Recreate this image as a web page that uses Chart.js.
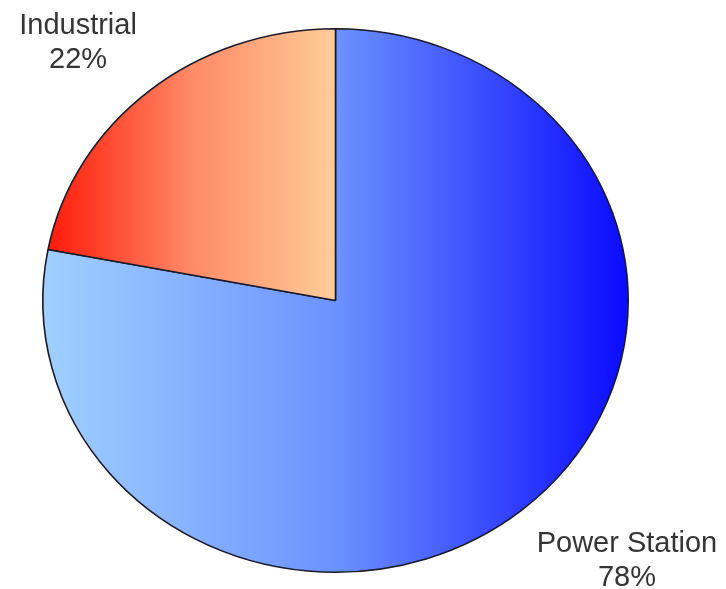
<!DOCTYPE html>
<html>
<head>
<meta charset="utf-8">
<script src="https://cdn.jsdelivr.net/npm/chart.js@4.4.0/dist/chart.umd.min.js"></script>
<style>
  html, body { margin: 0; padding: 0; background: #ffffff; }
  #wrap { width: 726px; height: 589px; }
</style>
</head>
<body>
<div id="wrap"><canvas id="pieChart" width="726" height="589"></canvas></div>
<script>
// chart data
const categories = ['Power Station', 'Industrial'];
const shares = [78, 22];
const percentLabels = ['78%', '22%'];

// gradient stops (left -> right) for each slice
const gradientStops = [
    ['#a0d0ff', '#6c92ff', '#0a0aff'],
    ['#ff1a0a', '#ff8a66', '#ffcc99']
];

const stretchX = 1.077;          // the pie is drawn slightly wider than tall
const labelPush = [62, 28];      // extra horizontal push for the outside labels
const labelDrop = [3, 0];        // small vertical nudge for the outside labels

// angles of every slice, starting at 12 o'clock, clockwise
function sliceAngles(values) {
    const total = values.reduce((a, b) => a + b, 0);
    let start = -Math.PI / 2;
    return values.map(v => {
        const end = start + v / total * Math.PI * 2;
        const out = { start: start, end: end };
        start = end;
        return out;
    });
}

function sliceGradient(context) {
    const chart = context.chart;
    const area = chart.chartArea;
    if (!area) return gradientStops[context.dataIndex][0];
    const cx = (area.left + area.right) / 2;
    const r = Math.min(area.right - area.left, area.bottom - area.top) / 2;
    const a = sliceAngles(shares)[context.dataIndex];
    // horizontal extent of the slice
    const xs = [cx, cx + r * Math.cos(a.start), cx + r * Math.cos(a.end)];
    for (let k = -4; k <= 4; k++) {
        const ang = k * Math.PI;
        if (ang > a.start && ang < a.end) xs.push(cx + r * Math.cos(ang));
    }
    const x0 = Math.min.apply(null, xs);
    const x1 = Math.max.apply(null, xs);
    const g = chart.ctx.createLinearGradient(x0, 0, x1, 0);
    const stops = gradientStops[context.dataIndex];
    stops.forEach((c, i) => g.addColorStop(i / (stops.length - 1), c));
    return g;
}

// stretch the pie horizontally around its centre
const stretchPlugin = {
    id: 'stretch',
    beforeDatasetsDraw(chart) {
        const area = chart.chartArea;
        const cx = (area.left + area.right) / 2;
        const ctx = chart.ctx;
        ctx.save();
        ctx.translate(cx, 0);
        ctx.scale(stretchX, 1);
        ctx.translate(-cx, 0);
    },
    afterDatasetsDraw(chart) {
        chart.ctx.restore();
    }
};

// category name + percent outside each slice
const outsideLabels = {
    id: 'outsideLabels',
    afterDraw(chart) {
        const ctx = chart.ctx;
        const meta = chart.getDatasetMeta(0);
        ctx.save();
        ctx.fillStyle = '#353535';
        ctx.font = '29px "Liberation Sans", Arial, sans-serif';
        ctx.textAlign = 'center';
        ctx.textBaseline = 'middle';
        meta.data.forEach((arc, i) => {
            const mid = (arc.startAngle + arc.endAngle) / 2;
            const r = arc.outerRadius * 1.23;
            const x = arc.x + Math.cos(mid) * r * stretchX + Math.sign(Math.cos(mid)) * labelPush[i];
            const y = arc.y + Math.sin(mid) * r + labelDrop[i];
            ctx.fillText(categories[i], x, y - 17);
            ctx.fillText(percentLabels[i], x, y + 17);
        });
        ctx.restore();
    }
};

new Chart(document.getElementById('pieChart').getContext('2d'), {
    type: 'pie',
    data: {
        labels: categories,
        datasets: [{
            data: shares,
            backgroundColor: sliceGradient,
            borderColor: '#1a1a2a',
            borderWidth: 1.5
        }]
    },
    options: {
        responsive: false,
        animation: false,
        layout: { padding: { left: 63, right: 118, top: 28, bottom: 16 } },
        plugins: {
            legend: { display: false },
            tooltip: { enabled: false }
        }
    },
    plugins: [stretchPlugin, outsideLabels]
});
</script>
</body>
</html>
